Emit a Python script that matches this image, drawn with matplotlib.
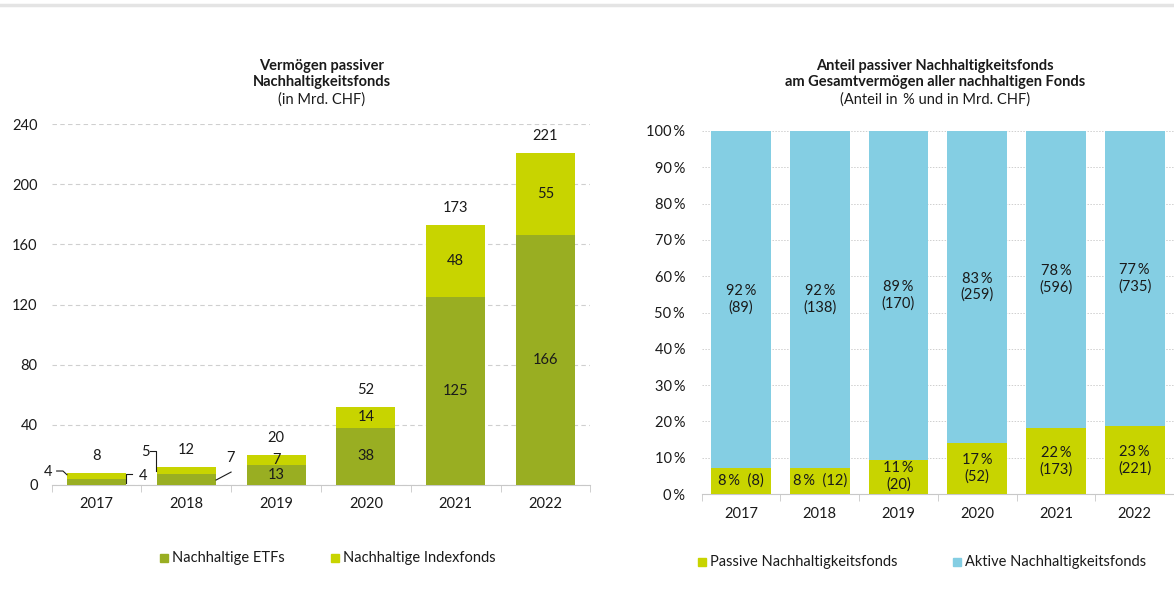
import matplotlib
matplotlib.use("Agg")
import matplotlib.pyplot as plt
from matplotlib.patches import Rectangle
from matplotlib.lines import Line2D
import numpy as np

plt.rcParams['font.family'] = ['Lato', 'DejaVu Sans']
FS = 10.5
plt.rcParams['font.size'] = FS

# ---------------- data ----------------
years = ["2017", "2018", "2019", "2020", "2021", "2022"]
etf_values = [4, 7, 13, 38, 125, 166]
index_values = [4, 5, 7, 14, 48, 55]
totals = [8, 12, 20, 52, 173, 221]

passive_share = [7.3, 7.3, 9.5, 14.1, 18.2, 18.7]      # drawn bar heights in %
passive_pct_labels = ["8", "8", "11", "17", "22", "23"]
passive_chf = [8, 12, 20, 52, 173, 221]
active_pct_labels = ["92", "92", "89", "83", "78", "77"]
active_chf = [89, 138, 170, 259, 596, 735]

left_yticks = [0, 40, 80, 120, 160, 200, 240]
right_yticks = [0, 10, 20, 30, 40, 50, 60, 70, 80, 90, 100]

# ---------------- style ----------------
C_ETF = "#99AE22"
C_IDX = "#C8D400"
C_ACT = "#84CEE3"
C_TXT = "#1a1a1a"
C_GRID = "#cfcfcf"
C_AX = "#c8c8c8"
PCT = "\u2009%"

W, H = 1174, 595
fig = plt.figure(figsize=(W / 100, H / 100), dpi=100)

def fx(px):
    return px / W

def fy(py):
    return 1 - py / H

# top rule
fig.add_artist(Line2D([0, 1], [fy(5), fy(5)], color="#e4e4e4", lw=2.5))

x = np.arange(len(years))

# ---------------- left chart ----------------
axL = fig.add_axes([fx(51.6), fy(485), fx(590.4 - 51.6), (485 - 124) / H])
bw = 0.657
axL.bar(x, etf_values, bw, color=C_ETF, zorder=3)
axL.bar(x, index_values, bw, bottom=etf_values, color=C_IDX, zorder=3)
axL.set_xlim(-0.5, 5.5)
axL.set_ylim(0, 240)
axL.set_yticks(left_yticks)
axL.yaxis.grid(True, linestyle=(0, (4, 3)), color=C_GRID, lw=0.8, zorder=0)
for s in ["left", "right", "top"]:
    axL.spines[s].set_visible(False)
axL.spines["bottom"].set_color(C_AX)
axL.tick_params(axis="y", length=0, pad=10, labelcolor=C_TXT, labelsize=FS)
axL.set_xticks(x)
axL.set_xticklabels(years)
axL.tick_params(axis="x", which="major", length=0, pad=9, labelcolor=C_TXT, labelsize=FS)
axL.set_xticks(np.arange(-0.5, 6.0, 1.0), minor=True)
axL.tick_params(axis="x", which="minor", length=5, color=C_AX, direction="out")

for i in range(len(years)):
    e, idx, t = etf_values[i], index_values[i], totals[i]
    axL.annotate(str(t), (x[i], t), xytext=(0, 12), textcoords="offset points",
                 ha="center", va="center", color=C_TXT, fontsize=FS)
    if i >= 2:
        axL.text(x[i], e / 2, str(e), ha="center", va="center", color=C_TXT, fontsize=FS, zorder=5)
        axL.text(x[i], e + idx / 2, str(idx), ha="center", va="center", color=C_TXT, fontsize=FS, zorder=5)

# small values with leader lines (2017, 2018)
lk = dict(color=C_TXT, lw=0.8, clip_on=False, zorder=6)
hb = bw / 2
# 2017 index (left)
axL.plot([x[0] - hb - 0.115, x[0] - hb - 0.045, x[0] - hb], [9.3, 9.3, 6.8], **lk)
axL.text(x[0] - hb - 0.21, 8.6, str(index_values[0]), ha="center", va="center", color=C_TXT, fontsize=FS)
# 2017 etf (right)
axL.plot([x[0] + hb + 0.07, x[0] + hb, x[0] + hb], [7.3, 7.3, 1.3], **lk)
axL.text(x[0] + hb + 0.19, 6.0, str(etf_values[0]), ha="center", va="center", color=C_TXT, fontsize=FS)
# 2018 index (left)
axL.plot([x[1] - hb - 0.075, x[1] - hb - 0.008, x[1] - hb - 0.008], [22.6, 22.6, 9.3], **lk)
axL.text(x[1] - hb - 0.13, 21.9, str(index_values[1]), ha="center", va="center", color=C_TXT, fontsize=FS)
# 2018 etf (right)
axL.plot([x[1] + hb + 0.17, x[1] + hb + 0.003], [8.6, 3.3], **lk)
axL.text(x[1] + hb + 0.16, 18.0, str(etf_values[1]), ha="center", va="center", color=C_TXT, fontsize=FS)

# left title
cxL = fx(322)
fig.text(cxL, fy(66), "Vermögen passiver", ha="center", va="center", fontweight="bold", color=C_TXT, fontsize=FS)
fig.text(cxL, fy(82), "Nachhaltigkeitsfonds", ha="center", va="center", fontweight="bold", color=C_TXT, fontsize=FS)
fig.text(cxL, fy(100), "(in Mrd. CHF)", ha="center", va="center", color=C_TXT, fontsize=FS)

# legends
def legend_item(px, py, color, label):
    fig.add_artist(Rectangle((fx(px), fy(py + 4)), fx(8), 8 / H, color=color, transform=fig.transFigure))
    fig.text(fx(px + 12), fy(py), label, ha="left", va="center", color=C_TXT, fontsize=FS)

legend_item(160, 558, C_ETF, "Nachhaltige ETFs")
legend_item(331, 558, C_IDX, "Nachhaltige Indexfonds")

# ---------------- right chart ----------------
active_share = [100 - p for p in passive_share]
axR = fig.add_axes([fx(701.7), fy(494), fx(1174 - 701.7), (494 - 131) / H])
bw2 = 0.76
axR.bar(x, passive_share, bw2, color=C_IDX, zorder=3)
axR.bar(x, active_share, bw2, bottom=passive_share, color=C_ACT, zorder=3)
axR.set_xlim(-0.5, (1174 - 741.5) / 79.56)
axR.set_ylim(0, 100)
axR.set_yticks(right_yticks)
axR.set_yticklabels([f"{v}{PCT}" for v in right_yticks])
axR.yaxis.grid(True, linestyle=(0, (1.5, 1.5)), color=C_GRID, lw=0.7, zorder=0)
for s in ["left", "right", "top"]:
    axR.spines[s].set_visible(False)
axR.spines["bottom"].set_color(C_AX)
axR.tick_params(axis="y", length=0, pad=12, labelcolor=C_TXT, labelsize=FS)
axR.set_xticks(x)
axR.set_xticklabels(years)
axR.tick_params(axis="x", which="major", length=0, pad=9, labelcolor=C_TXT, labelsize=FS)
axR.set_xticks(np.arange(-0.5, 6.0, 1.0), minor=True)
axR.tick_params(axis="x", which="minor", length=5, color=C_AX, direction="out")

for i in range(len(years)):
    p = passive_share[i]
    if i < 2:
        plab = f"{passive_pct_labels[i]}{PCT}  ({passive_chf[i]})"
    else:
        plab = f"{passive_pct_labels[i]}{PCT}\n({passive_chf[i]})"
    axR.text(x[i], p / 2, plab, ha="center", va="center", color=C_TXT, fontsize=FS,
             linespacing=1.2, zorder=5)
    alab = f"{active_pct_labels[i]}{PCT}\n({active_chf[i]})"
    axR.text(x[i], p + (100 - p) / 2, alab, ha="center", va="center", color=C_TXT, fontsize=FS,
             linespacing=1.2, zorder=5)

cxR = fx(935)
fig.text(cxR, fy(66), "Anteil passiver Nachhaltigkeitsfonds", ha="center", va="center", fontweight="bold", color=C_TXT, fontsize=FS)
fig.text(cxR, fy(82), "am Gesamtvermögen aller nachhaltigen Fonds", ha="center", va="center", fontweight="bold", color=C_TXT, fontsize=FS)
fig.text(cxR, fy(100), "(Anteil in \u2009% und in Mrd. CHF)", ha="center", va="center", color=C_TXT, fontsize=FS)

legend_item(698, 562, C_IDX, "Passive Nachhaltigkeitsfonds")
legend_item(953, 562, C_ACT, "Aktive Nachhaltigkeitsfonds")

fig.savefig("out.png", dpi=100)
